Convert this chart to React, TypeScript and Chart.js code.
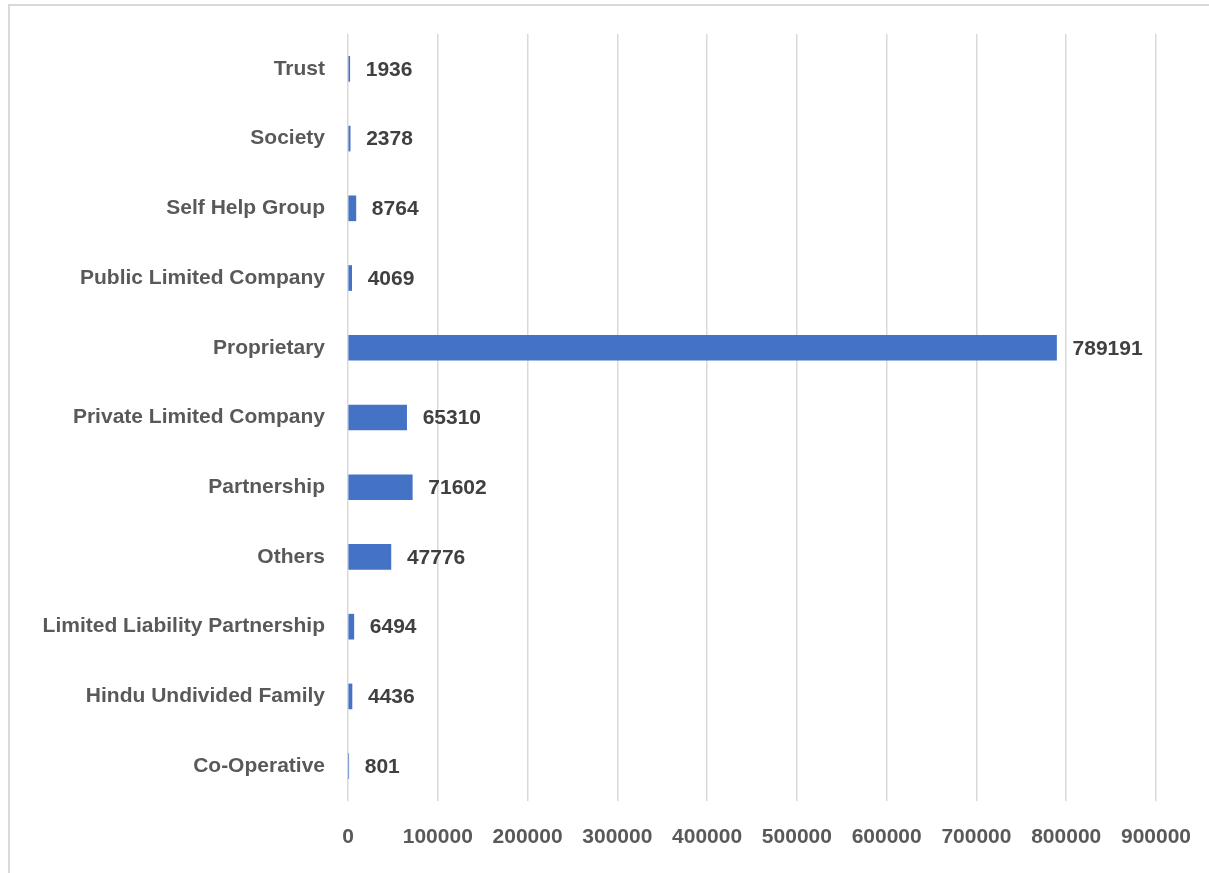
import React, { useEffect, useRef } from "react";
import { Chart, registerables } from "chart.js";

Chart.register(...registerables);

const categories = [
  "Trust",
  "Society",
  "Self Help Group",
  "Public Limited Company",
  "Proprietary",
  "Private Limited Company",
  "Partnership",
  "Others",
  "Limited Liability Partnership",
  "Hindu Undivided Family",
  "Co-Operative",
];
const values = [1936, 2378, 8764, 4069, 789191, 65310, 71602, 47776, 6494, 4436, 801];
const xMin = 0;
const xMax = 900000;
const xStep = 100000;

const FONT = "'Liberation Sans', Arial, sans-serif";

const labelPlugin = {
  id: "barValueLabels",
  afterDatasetsDraw(chart: any) {
    const ctx = chart.ctx;
    const meta = chart.getDatasetMeta(0);
    ctx.save();
    ctx.font = `bold 21px ${FONT}`;
    ctx.fillStyle = "#404040";
    ctx.textAlign = "left";
    ctx.textBaseline = "middle";
    meta.data.forEach((el: any, i: number) => {
      ctx.fillText(String(values[i]), el.x + 16, el.y + 1);
    });
    ctx.restore();
  },
};

export default function App() {
  const ref = useRef<HTMLCanvasElement>(null);
  useEffect(() => {
    if (!ref.current) return;
    const chart = new Chart(ref.current, {
      type: "bar",
      data: {
        labels: categories,
        datasets: [
          {
            data: values,
            backgroundColor: "#4472C4",
            borderWidth: 0,
            barThickness: 25,
          },
        ],
      },
      options: {
        indexAxis: "y",
        responsive: false,
        animation: false,
        layout: { padding: { top: 34, right: 53, left: 0, bottom: 0 } },
        plugins: { legend: { display: false }, tooltip: { enabled: false } },
        scales: {
          x: {
            min: xMin,
            max: xMax,
            border: { display: false },
            grid: { color: "#d9d9d9", lineWidth: 1.5, drawTicks: false },
            ticks: {
              stepSize: xStep,
              padding: 24,
              color: "#595959",
              font: { family: FONT, size: 21, weight: "bold" },
              callback: (v: any) => String(v),
            },
            afterFit: (s: any) => {
              s.height = 72;
              s.paddingLeft = 0;
              s.paddingRight = 0;
              s.paddingTop = 0;
              s.paddingBottom = 0;
            },
          },
          y: {
            border: { display: false },
            grid: { display: false, drawTicks: false },
            ticks: {
              padding: 23,
              color: "#595959",
              font: { family: FONT, size: 21, weight: "bold" },
            },
            afterFit: (s: any) => {
              s.width = 348;
              s.paddingLeft = 0;
              s.paddingRight = 0;
              s.paddingTop = 0;
              s.paddingBottom = 0;
            },
          },
        },
      },
      plugins: [labelPlugin],
    } as any);
    return () => chart.destroy();
  }, []);
  return (
    <div style={{ position: "absolute", left: 0, top: 0, width: 1209, height: 873, overflow: "hidden", background: "#fff" }}>
      <div
        style={{
          position: "absolute",
          left: 8,
          top: 4,
          width: 1201,
          height: 869,
          borderTop: "2px solid #d9d9d9",
          borderLeft: "2px solid #d9d9d9",
          boxSizing: "border-box",
        }}
      />
      <canvas ref={ref} width={1209} height={873} style={{ position: "absolute", left: 0, top: 0 }} />
    </div>
  );
}
